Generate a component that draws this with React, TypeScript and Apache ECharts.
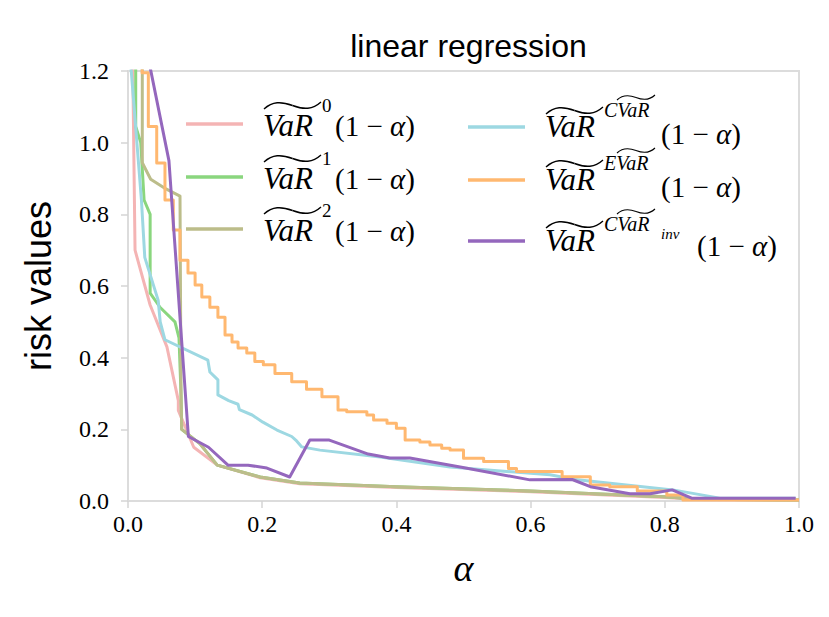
import React, { useEffect, useRef } from "react";
import * as echarts from "echarts";

// alpha / value pairs
const var0: [number, number][] = [
  [0.007, 1.22], [0.0105, 0.7], [0.033, 0.547], [0.058, 0.43], [0.075, 0.28], [0.075, 0.253],
  [0.098, 0.15], [0.133, 0.1], [0.197, 0.065], [0.256, 0.048], [0.4, 0.038], [0.6, 0.026],
  [0.8, 0.01], [0.85, 0.004], [1.0, 0.002],
];
const var1: [number, number][] = [
  [0.0115, 1.22], [0.0115, 1.045], [0.019, 1.0], [0.024, 0.84], [0.033, 0.8], [0.033, 0.58],
  [0.048, 0.54], [0.07, 0.5], [0.076, 0.455], [0.079, 0.3], [0.08, 0.2], [0.107, 0.16],
  [0.133, 0.1], [0.197, 0.067], [0.256, 0.05], [0.4, 0.04], [0.6, 0.028], [0.8, 0.012],
  [0.85, 0.005], [1.0, 0.003],
];
const var2: [number, number][] = [
  [0.0213, 1.22], [0.0213, 0.944], [0.0338, 0.898], [0.0537, 0.874], [0.0775, 0.851],
  [0.079, 0.3], [0.08, 0.2], [0.107, 0.16], [0.133, 0.1], [0.197, 0.067], [0.256, 0.05],
  [0.4, 0.04], [0.6, 0.028], [0.8, 0.012], [0.85, 0.005], [1.0, 0.003],
];
const varCvar: [number, number][] = [
  [0.004, 1.22], [0.02, 0.84], [0.025, 0.68], [0.045, 0.56], [0.048, 0.5], [0.055, 0.45],
  [0.119, 0.393], [0.122, 0.36], [0.134, 0.338], [0.134, 0.296], [0.15, 0.28], [0.164, 0.27],
  [0.166, 0.255], [0.185, 0.24], [0.201, 0.22], [0.222, 0.198], [0.244, 0.18], [0.25, 0.17],
  [0.259, 0.151], [0.286, 0.142], [0.376, 0.123], [0.48, 0.095], [0.629, 0.073], [0.663, 0.061],
  [0.812, 0.031], [0.882, 0.008], [0.995, 0.008],
];
const varEvar: [number, number][] = [
  [0.021, 1.3], [0.021, 1.195], [0.0303, 1.045], [0.0428, 0.943], [0.0551, 0.84], [0.0675, 0.756],
  [0.0775, 0.672], [0.0894, 0.636], [0.1, 0.603], [0.11, 0.569], [0.122, 0.541], [0.134, 0.513],
  [0.1446, 0.463], [0.155, 0.444], [0.164, 0.427], [0.177, 0.413], [0.189, 0.389], [0.2017, 0.38],
  [0.219, 0.356], [0.244, 0.333], [0.266, 0.312], [0.289, 0.291], [0.313, 0.254], [0.326, 0.249],
  [0.356, 0.24], [0.366, 0.226], [0.386, 0.217], [0.4, 0.203], [0.413, 0.17], [0.435, 0.165],
  [0.45, 0.156], [0.4675, 0.147], [0.48, 0.142], [0.5, 0.119], [0.53, 0.11], [0.567, 0.091],
  [0.579, 0.082], [0.647, 0.068], [0.689, 0.045], [0.718, 0.04], [0.759, 0.028], [0.803, 0.017],
  [0.827, 0.003], [1.0, 0.003],
];
const varCvarInv: [number, number][] = [
  [0.033, 1.21], [0.061, 0.95], [0.09, 0.18], [0.12, 0.15], [0.149, 0.1], [0.179, 0.1],
  [0.207, 0.092], [0.241, 0.067], [0.271, 0.17], [0.3, 0.17], [0.358, 0.131], [0.39, 0.12],
  [0.42, 0.12], [0.495, 0.095], [0.599, 0.059], [0.662, 0.06], [0.689, 0.04], [0.748, 0.02],
  [0.778, 0.02], [0.811, 0.031], [0.84, 0.008], [0.995, 0.008],
];

const seriesNames = ["VaR0", "VaR1", "VaR2", "VaRCVaR", "VaREVaR", "VaRCVaRinv"];
const seriesColors = ["#f4b4b4", "#8ad67e", "#bcbd8a", "#9dd8e2", "#ffb870", "#9467bd"];
const seriesData = [var0, var1, var2, varCvar, varEvar, varCvarInv];
const xTickLabels = ["0.0", "0.2", "0.4", "0.6", "0.8", "1.0"];
const yTickLabels = ["0.0", "0.2", "0.4", "0.6", "0.8", "1.0", "1.2"];

const serif = "Liberation Serif";
const rich: any = {
  v: { fontFamily: serif, fontStyle: "italic", fontSize: 31, lineHeight: 32, width: 59, verticalAlign: "top", color: "#000" },
  p: { fontFamily: serif, fontSize: 29, lineHeight: 32, color: "#000" },
  pa: { fontFamily: serif, fontStyle: "italic", fontSize: 29, lineHeight: 32, color: "#000" },
  pL: { fontFamily: serif, fontSize: 29, lineHeight: 46, color: "#000" },
  paL: { fontFamily: serif, fontStyle: "italic", fontSize: 29, lineHeight: 46, color: "#000" },
  pM: { fontFamily: serif, fontSize: 29, lineHeight: 42, color: "#000" },
  paM: { fontFamily: serif, fontStyle: "italic", fontSize: 29, lineHeight: 42, color: "#000" },
  t1: { width: 59, lineHeight: 22 },
  t2: { width: 59, lineHeight: 26 },
  s: { fontFamily: serif, fontSize: 19, lineHeight: 22, verticalAlign: "top", padding: [8, 0, 0, 0], width: 13, color: "#000" },
  s2: { fontFamily: serif, fontStyle: "italic", fontSize: 20, lineHeight: 26, verticalAlign: "top", padding: [15, 0, 0, 0], width: 57, color: "#000" },
  sub: { fontFamily: serif, fontStyle: "italic", fontSize: 15, lineHeight: 26, verticalAlign: "top", padding: [27, 0, 0, 0], width: 36, color: "#000" },
  g13: { width: 13, lineHeight: 32 },
  g57: { width: 57, lineHeight: 32 },
  g93: { width: 93, lineHeight: 32 },
  f18: { lineHeight: 18 },
  f12: { lineHeight: 12 },
  f16: { lineHeight: 16 },
};

const oneMinusAlpha = "{p|(1 − }{pa|α}{p|)}";
const oneMinusAlphaLow = "{pL|(1 − }{paL|α}{pL|)}";
const oneMinusAlphaMid = "{pM|(1 − }{paM|α}{pM|)}";
const legendLabels: Record<string, string> = {
  VaR0: `{t1| }{s|0}\n{v|VaR}{g13| }${oneMinusAlpha}\n{f18| }`,
  VaR1: `{t1| }{s|1}\n{v|VaR}{g13| }${oneMinusAlpha}\n{f18| }`,
  VaR2: `{t1| }{s|2}\n{v|VaR}{g13| }${oneMinusAlpha}\n{f18| }`,
  VaRCVaR: `{t2| }{s2|CVaR}\n{v|VaR}{g57| }${oneMinusAlphaLow}\n{f12| }`,
  VaREVaR: `{t2| }{s2|EVaR}\n{v|VaR}{g57| }${oneMinusAlphaLow}\n{f12| }`,
  VaRCVaRinv: `{t2| }{s2|CVaR}{sub|inv}\n{v|VaR}{g93| }${oneMinusAlphaMid}\n{f16| }`,
};
// legend item: [left, top]
const legendPos: Record<string, [number, number]> = {
  VaR0: [186, 88],
  VaR1: [186, 141],
  VaR2: [186, 193],
  VaRCVaR: [468, 85],
  VaREVaR: [468, 138],
  VaRCVaRinv: [468, 199],
};
const leftText = 263;
const rightText = 545;

function tilde(x: number, y: number, w: number, h: number, lw: number) {
  const st = { stroke: "#000", fill: "none", lineWidth: lw };
  return [
    {
      type: "bezierCurve",
      silent: true,
      shape: { x1: x, y1: y + h, cpx1: x + w * 0.15, cpy1: y - h * 0.1, cpx2: x + w * 0.3, cpy2: y - h * 0.1, x2: x + w / 2, y2: y + h / 2 },
      style: st,
    },
    {
      type: "bezierCurve",
      silent: true,
      shape: { x1: x + w / 2, y1: y + h / 2, cpx1: x + w * 0.7, cpy1: y + h * 1.1, cpx2: x + w * 0.85, cpy2: y + h * 1.1, x2: x + w, y2: y },
      style: st,
    },
  ];
}

export default function App() {
  const ref = useRef<HTMLDivElement>(null);
  useEffect(() => {
    if (!ref.current) return;
    const chart = echarts.init(ref.current, undefined, { renderer: "svg" });
    const legends = seriesNames.map((n) => ({
      data: [{ name: n, icon: "rect" }],
      left: legendPos[n][0],
      top: legendPos[n][1],
      padding: 0,
      itemWidth: 57,
      itemHeight: 3.5,
      selectedMode: false,
      formatter: (name: string) => legendLabels[name],
      textStyle: { color: "#000", padding: [0, 0, 0, 15], rich },
    }));
    const tildes: any[] = [];
    ["VaR0", "VaR1", "VaR2"].forEach((n) => {
      tildes.push(...tilde(leftText + 1, legendPos[n][1] + 14, 57, 7, 1.4));
    });
    ["VaRCVaR", "VaREVaR", "VaRCVaRinv"].forEach((n) => {
      tildes.push(...tilde(rightText + 1, legendPos[n][1] + 22, 57, 7, 1.4));
      tildes.push(...tilde(rightText + 72, legendPos[n][1] + 10, 38, 5, 1.1));
    });
    chart.setOption({
      animation: false,
      title: {
        text: "linear regression",
        left: 463.5,
        textAlign: "center",
        top: 25,
        textStyle: { fontFamily: "Liberation Sans", fontSize: 32, fontWeight: "normal", color: "#000" },
      },
      legend: legends,
      graphic: { elements: tildes },
      grid: { left: 128, right: 30, top: 71, bottom: 116, show: true, borderColor: "#dcdcdc", borderWidth: 2, containLabel: false },
      xAxis: {
        type: "value",
        min: 0,
        max: 1,
        interval: 0.2,
        name: "α",
        nameLocation: "middle",
        nameGap: 48,
        nameTextStyle: { fontFamily: serif, fontStyle: "italic", fontSize: 38, color: "#000" },
        axisLine: { show: false },
        axisTick: { show: true, length: 7, lineStyle: { color: "#d4d4d4", width: 1.5 } },
        axisLabel: {
          margin: 11,
          fontFamily: serif,
          fontSize: 24,
          color: "#000",
          formatter: (v: number) => xTickLabels[Math.round(v / 0.2)] ?? v.toFixed(1),
        },
        splitLine: { show: false },
      },
      yAxis: {
        type: "value",
        min: 0,
        max: 1.2,
        interval: 0.2,
        name: "risk values",
        nameLocation: "middle",
        nameGap: 72,
        nameTextStyle: { fontFamily: "Liberation Sans", fontSize: 36, color: "#000" },
        axisLine: { show: false },
        axisTick: { show: true, length: 7, lineStyle: { color: "#d4d4d4", width: 1.5 } },
        axisLabel: {
          margin: 19,
          fontFamily: serif,
          fontSize: 24,
          color: "#000",
          formatter: (v: number) => yTickLabels[Math.round(v / 0.2)] ?? v.toFixed(1),
        },
        splitLine: { show: false },
      },
      series: seriesNames.map((n, i) => ({
        name: n,
        type: "line",
        data: seriesData[i],
        step: n === "VaREVaR" ? "end" : false,
        showSymbol: false,
        symbol: "none",
        clip: true,
        color: seriesColors[i],
        itemStyle: { color: seriesColors[i] },
        lineStyle: { color: seriesColors[i], width: 3, join: "round" },
        emphasis: { disabled: true },
      })),
    });
    return () => chart.dispose();
  }, []);
  return (
    <div
      ref={ref}
      style={{ position: "fixed", left: 0, top: 0, width: 829, height: 617, background: "#fff" }}
    />
  );
}
